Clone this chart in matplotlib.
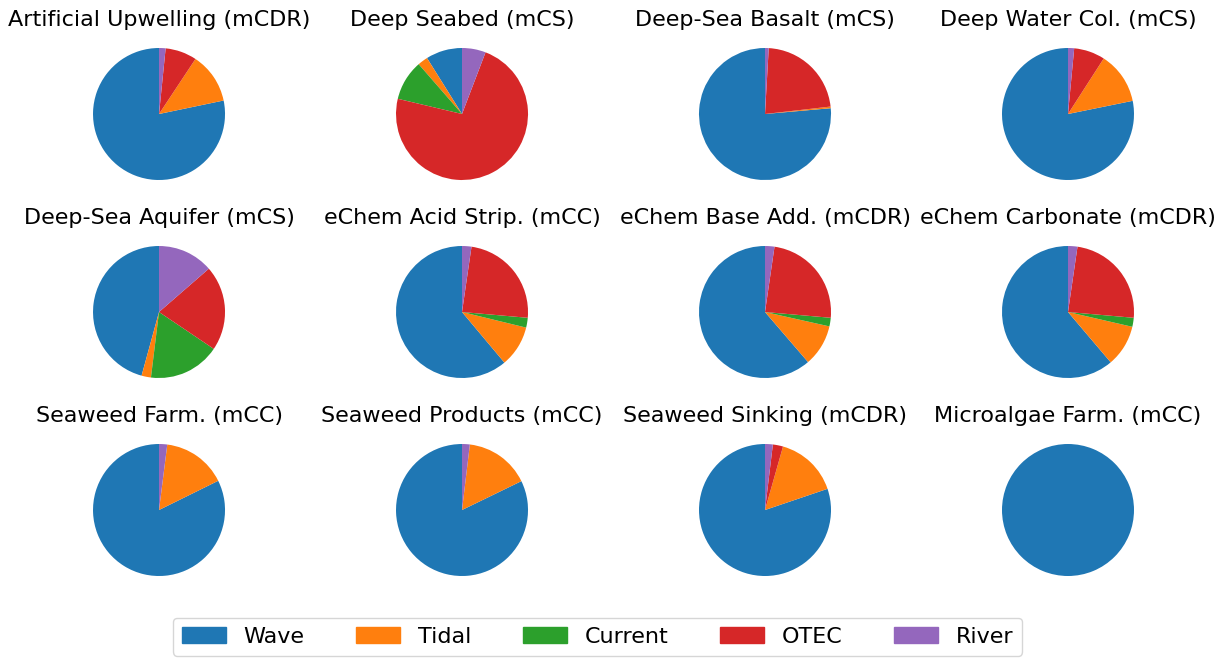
import matplotlib
matplotlib.use('Agg')
import matplotlib.pyplot as plt

# energy sources (legend order)
sources = ["Wave", "Tidal", "Current", "OTEC", "River"]
colors = ["#1f77b4", "#ff7f0e", "#2ca02c", "#d62728", "#9467bd"]

# mCDR pathways, one pie each
titles = [
    "Artificial Upwelling (mCDR)", "Deep Seabed (mCS)", "Deep-Sea Basalt (mCS)", "Deep Water Col. (mCS)",
    "Deep-Sea Aquifer (mCS)", "eChem Acid Strip. (mCC)", "eChem Base Add. (mCDR)", "eChem Carbonate (mCDR)",
    "Seaweed Farm. (mCC)", "Seaweed Products (mCC)", "Seaweed Sinking (mCDR)", "Microalgae Farm. (mCC)",
]

# shares in percent: Wave, Tidal, Current, OTEC, River
wave    = [78.2,  8.9, 76.4, 78.2, 45.7, 61.1, 61.3, 61.2, 82.3, 82.2, 80.2, 100.0]
tidal   = [12.4,  2.5,  0.4, 12.7,  2.3, 10.1, 10.2, 10.2, 15.7, 15.9, 15.4,   0.0]
current = [ 0.0,  9.9,  0.0,  0.0, 17.5,  2.4,  2.1,  2.2,  0.0,  0.0,  0.0,   0.0]
otec    = [ 7.7, 72.9, 22.3,  7.6, 20.8, 24.1, 24.1, 24.1,  0.0,  0.0,  2.5,   0.0]
river   = [ 1.6,  5.8,  0.9,  1.5, 13.6,  2.3,  2.3,  2.3,  2.0,  1.9,  1.9,   0.0]

fig, axes = plt.subplots(3, 4, figsize=(12.28, 6.59), dpi=100)
fig.subplots_adjust(left=0.0623, right=0.9369, top=0.9522, bottom=0.1009,
                    wspace=0.836, hspace=0.2)

for i, ax in enumerate(axes.flat):
    vals = [wave[i], tidal[i], current[i], otec[i], river[i]]
    ax.pie(vals, colors=colors, startangle=90, counterclock=True)
    ax.set_title(titles[i], fontsize=16, pad=4)
    ax.set_aspect('equal')

handles = [plt.Rectangle((0, 0), 1, 1, color=c) for c in colors]
fig.legend(handles, sources, loc='lower center', ncol=5, fontsize=16,
           bbox_to_anchor=(0.4866, -0.012), columnspacing=2.3)

fig.savefig("out.png", dpi=100)
